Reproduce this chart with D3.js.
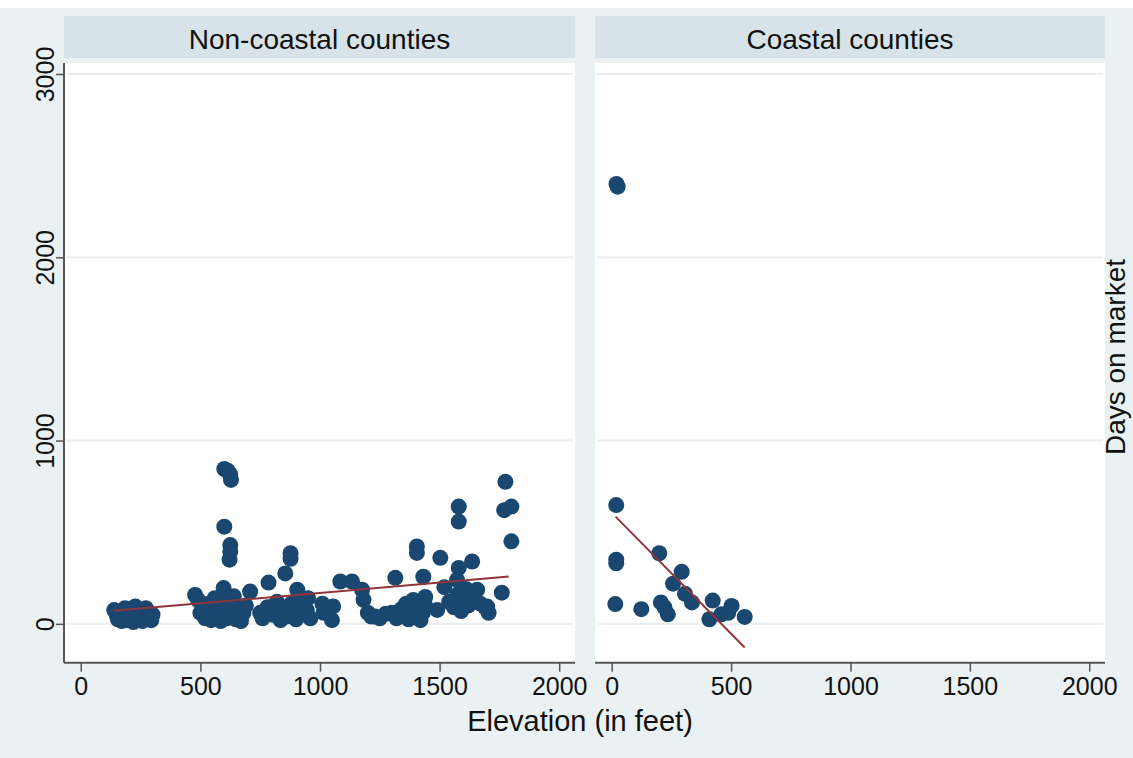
<!DOCTYPE html>
<html>
<head>
<meta charset="utf-8">
<script src="https://cdn.jsdelivr.net/npm/d3@7"></script>
<style>
  body { margin: 0; background: #ffffff; }
  text { font-family: "Liberation Sans", Arial, sans-serif; fill: #111; }
</style>
</head>
<body>
<div id="chart"></div>
<script>
// elevation (feet), days on market
const nonCoastal = [
  [140,75],[150,50],[155,25],[165,35],[172,15],[180,60],[188,40],[195,20],[205,80],[212,45],
  [220,10],[228,95],[235,30],[242,55],[250,70],[258,15],[265,40],[272,85],[280,30],[288,60],
  [295,20],[300,50],[185,85],[230,65],
  [478,158],[490,130],[500,60],[512,90],[520,30],[535,110],[545,20],[555,70],[565,40],[575,100],
  [585,15],[592,55],[597,195],[600,530],[600,845],[605,130],[610,30],[615,835],[618,80],[622,350],
  [625,430],[625,395],[625,815],[628,785],[632,110],[640,45],[648,25],[655,70],[662,95],[670,15],
  [680,60],[690,100],[560,140],[640,150],
  [708,176],[750,60],[760,30],[785,225],[780,90],[800,50],[820,120],[835,20],[845,80],[855,275],
  [860,40],[877,385],[877,355],[880,110],[890,60],[900,25],[905,186],[910,95],[920,130],[935,50],
  [945,75],[950,140],[960,30],
  [1010,110],[1015,60],[1035,70],[1050,20],[1055,95],[1085,231],[1134,231],[1176,186],[1182,131],
  [1200,60],[1215,40],[1230,40],[1250,30],[1275,55],
  [1300,60],[1315,251],[1320,30],[1340,80],[1350,45],[1360,110],[1370,25],[1380,70],[1390,130],
  [1400,40],[1405,422],[1405,387],[1410,90],[1420,20],[1430,60],[1432,257],[1440,147],[1440,100],
  [1490,76],[1503,360],
  [1520,200],[1540,120],[1560,90],[1573,240],[1575,160],[1580,640],[1580,558],[1580,305],[1590,70],
  [1600,130],[1610,190],[1620,100],[1636,340],[1640,140],[1657,186],[1670,110],[1690,90],[1699,94],
  [1705,60],
  [1760,170],[1770,620],[1775,775],[1800,640],[1800,450]
]
const coastal = [
  [20,2400],[25,2385],[19,648],[19,350],[19,330],[15,108],[124,80],[199,385],[206,117],[221,90],
  [235,52],[257,219],[293,284],[307,164],[336,117],[409,25],[423,127],[459,52],[488,60],[502,98],
  [557,38]
]
// fitted lines (endpoints)
const fitNonCoastal = [[136,71],[1789,258]]
const fitCoastal = [[16,585],[557,-129]]

const panelTitles = ["Non-coastal counties", "Coastal counties"]
const xTicks = [0, 500, 1000, 1500, 2000]
const yTicks = [0, 1000, 2000, 3000]
const xTitle = "Elevation (in feet)"
const yTitle = "Days on market"

const width = 1133
const height = 758
const plotTop = 63, plotBottom = 662.7
const panels = [
  {title: panelTitles[0], points: nonCoastal, fit: fitNonCoastal, x0: 64, x1: 575},
  {title: panelTitles[1], points: coastal, fit: fitCoastal, x0: 595, x1: 1105}
]

const svg = d3.select("#chart")
    .append("svg")
    .attr("width", width)
    .attr("height", height)

const layer_bg = svg.append("g")

layer_bg.append("rect")
    .attr("x", 0).attr("y", 0)
    .attr("width", width).attr("height", height)
    .attr("fill", "#e9f1f2")

layer_bg.append("rect")
    .attr("x", 0).attr("y", 0)
    .attr("width", width).attr("height", 8)
    .attr("fill", "#ffffff")

const y = d3.scaleLinear()
    .domain([-212, 3060])
    .range([plotBottom, plotTop])

panels.forEach((p, i) => {
    const x = d3.scaleLinear()
        .domain([-70, 2066])
        .range([p.x0, p.x1])

    const g = svg.append("g")

    // header strip
    g.append("rect")
        .attr("x", p.x0).attr("y", 16)
        .attr("width", p.x1 - p.x0).attr("height", 42)
        .attr("fill", "#d7e3e9")
    g.append("text")
        .attr("x", (p.x0 + p.x1) / 2)
        .attr("y", 49)
        .attr("text-anchor", "middle")
        .style("font-size", "28px")
        .text(p.title)

    // plot region
    g.append("rect")
        .attr("x", p.x0).attr("y", plotTop)
        .attr("width", p.x1 - p.x0).attr("height", plotBottom - plotTop)
        .attr("fill", "#ffffff")

    g.append("g")
        .attr("stroke", "#e9eef0")
        .attr("stroke-width", 2)
        .selectAll("line")
        .data(yTicks)
        .join("line")
        .attr("x1", p.x0 + 2)
        .attr("x2", p.x1 - 2)
        .attr("y1", d => y(d))
        .attr("y2", d => y(d))

    // x axis
    const xAxis = g.append("g")
        .attr("transform", `translate(0,${plotBottom})`)
        .call(d3.axisBottom(x).tickValues(xTicks).tickSize(9).tickPadding(6).tickFormat(d3.format("d")))
    xAxis.select(".domain")
        .attr("d", `M${p.x0},0H${p.x1}`)
        .attr("stroke", "#555")
        .attr("stroke-width", 2)
    xAxis.selectAll(".tick line").attr("stroke", "#555").attr("stroke-width", 1.5)
    xAxis.selectAll(".tick text")
        .style("font-size", "25px")
        .style("font-family", "'Liberation Sans', Arial, sans-serif")
        .attr("fill", "#111")

    if (i === 0) {
        const yAxis = g.append("g")
            .attr("transform", `translate(${p.x0},0)`)
            .call(d3.axisLeft(y).tickValues(yTicks).tickSize(8).tickFormat(d3.format("d")))
        yAxis.select(".domain")
            .attr("d", `M0,${plotTop}V${plotBottom}`)
            .attr("stroke", "#555")
            .attr("stroke-width", 2)
        yAxis.selectAll(".tick line").attr("stroke", "#555").attr("stroke-width", 1.5)
        yAxis.selectAll(".tick text")
            .attr("x", 0).attr("y", 0)
            .attr("dy", null)
            .attr("text-anchor", "middle")
            .attr("transform", "translate(-10,0) rotate(-90)")
            .style("font-size", "25px")
            .style("font-family", "'Liberation Sans', Arial, sans-serif")
            .attr("fill", "#111")
    }

    // points
    g.append("g")
        .attr("fill", "#1a476f")
        .selectAll("circle")
        .data(p.points)
        .join("circle")
        .attr("cx", d => x(d[0]))
        .attr("cy", d => y(d[1]))
        .attr("r", 8)

    // fitted values
    g.append("path")
        .attr("fill", "none")
        .attr("stroke", "#90353b")
        .attr("stroke-width", 2)
        .attr("d", d3.line().x(d => x(d[0])).y(d => y(d[1]))(p.fit))
})

// axis titles
svg.append("text")
    .attr("x", 580)
    .attr("y", 731)
    .attr("text-anchor", "middle")
    .style("font-size", "29px")
    .text(xTitle)

svg.append("text")
    .attr("transform", "translate(1125,357) rotate(-90)")
    .attr("text-anchor", "middle")
    .style("font-size", "28px")
    .text(yTitle)
</script>
</body>
</html>
